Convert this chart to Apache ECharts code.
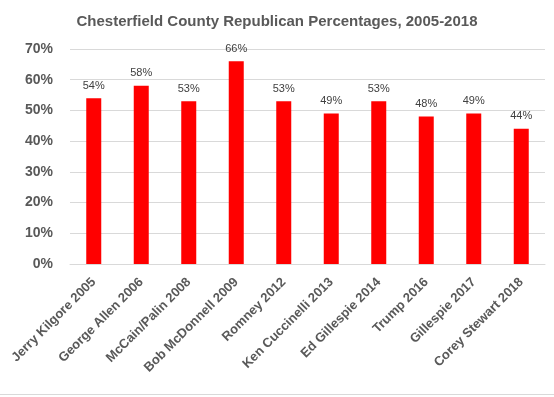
<!DOCTYPE html>
<html>
<head>
<meta charset="utf-8">
<script src="https://cdn.jsdelivr.net/npm/echarts@6/dist/echarts.min.js"></script>
<style>
  html, body { margin: 0; padding: 0; background: #fff; }
  #chart { width: 554px; height: 397px; }
</style>
</head>
<body>
<div id="chart"></div>
<script>
const categories = [
  'Jerry Kilgore 2005', 'George Allen 2006', 'McCain/Palin 2008', 'Bob McDonnell 2009',
  'Romney 2012', 'Ken Cuccinelli 2013', 'Ed Gillespie 2014', 'Trump 2016',
  'Gillespie 2017', 'Corey Stewart 2018'
]
const percentages = [54, 58, 53, 66, 53, 49, 53, 48, 49, 44]

const chart = echarts.init(document.getElementById('chart'))

const option = {
  animation: false,
  title: {
    text: 'Chesterfield County Republican Percentages, 2005-2018',
    left: 'center',
    top: 9,
    textStyle: {
      fontFamily: 'Liberation Sans',
      fontSize: 15,
      fontWeight: 'bold',
      color: '#595959'
    }
  },
  grid: { left: 70, right: 9, top: 49, bottom: 133, containLabel: false },
  xAxis: {
    type: 'category',
    data: categories,
    axisLine: { lineStyle: { color: '#d9d9d9' } },
    axisTick: { show: false },
    axisLabel: {
      rotate: 45,
      interval: 0,
      margin: 16,
      color: '#595959',
      fontFamily: 'Liberation Sans',
      fontWeight: 'bold',
      fontSize: 13
    }
  },
  yAxis: {
    type: 'value',
    min: 0,
    max: 70,
    interval: 10,
    axisLine: { show: false },
    axisTick: { show: false },
    splitLine: { lineStyle: { color: '#d9d9d9' } },
    axisLabel: {
      formatter: '{value}%',
      margin: 17,
      color: '#595959',
      fontFamily: 'Liberation Sans',
      fontWeight: 'bold',
      fontSize: 14
    }
  },
  series: [{
    type: 'bar',
    data: percentages,
    barWidth: 15,
    itemStyle: { color: '#ff0000' },
    label: {
      show: true,
      position: 'top',
      distance: 7,
      formatter: '{c}%',
      color: '#404040',
      fontFamily: 'Liberation Sans',
      fontSize: 11
    }
  }],
  graphic: [{
    type: 'line',
    shape: { x1: 0, y1: 394.5, x2: 554, y2: 394.5 },
    style: { stroke: '#d9d9d9', lineWidth: 1 }
  }]
}

chart.setOption(option)
</script>
</body>
</html>
